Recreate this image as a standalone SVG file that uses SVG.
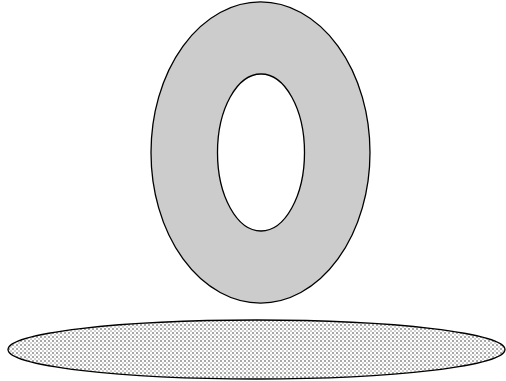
<svg xmlns="http://www.w3.org/2000/svg" width="506" height="381" viewBox="0 0 506 381">
<style>
.outline{stroke:#000;stroke-width:1.3}
</style>
<defs>
<pattern id="hatch" x="0" y="0" width="4" height="4" patternUnits="userSpaceOnUse">
<rect width="4" height="4" fill="#ffffff"/>
<rect x="0" y="0" width="2" height="2" fill="#a8a8a8"/>
<rect x="2" y="2" width="2" height="2" fill="#d0d0d0"/>
</pattern>
</defs>
<rect width="506" height="381" fill="#ffffff"/>
<g id="ring">
<path class="outline" fill="#cccccc" fill-rule="evenodd" d="M151 152.5 A109.5 150.5 0 1 0 370 152.5 A109.5 150.5 0 1 0 151 152.5 Z M217.5 152.5 A43.5 78.5 0 1 1 304.5 152.5 A43.5 78.5 0 1 1 217.5 152.5 Z"/>
</g>
<g id="disc">
<ellipse class="outline" cx="256.5" cy="349.5" rx="248.5" ry="29.5" fill="url(#hatch)"/>
</g>
<g id="connectors"/>
</svg>
